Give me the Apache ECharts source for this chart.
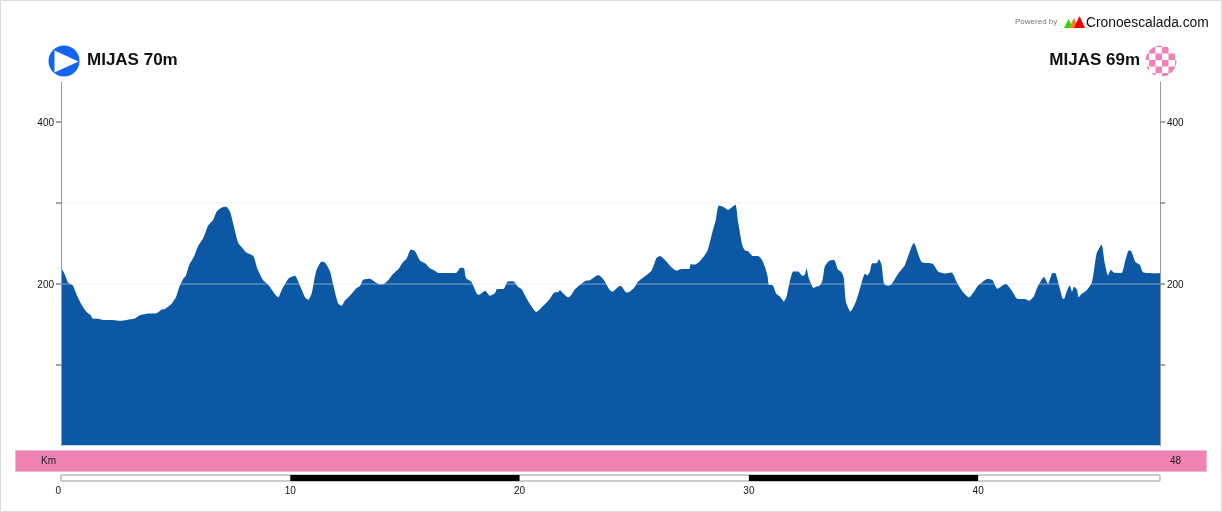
<!DOCTYPE html>
<html><head><meta charset="utf-8">
<style>html,body{margin:0;padding:0;background:#fff}#c{width:1222px;height:512px}</style>
<script src="https://cdn.jsdelivr.net/npm/echarts@6/dist/echarts.min.js"></script>
</head><body><div id="c"></div>
<script>
const kmMarks=[0,.04,.17,.32,.51,.69,.90,1.12,1.30,1.38,1.63,1.85,2.28,2.58,3.01,3.23,3.45,3.81,4.18,4.40,4.54,4.83,5.02,5.17,5.34,5.46,5.60,5.81,6.00,6.21,6.43,6.65,6.80,7.02,7.21,7.38,7.48,7.74,7.89,8.11,8.40,8.57,8.83,9.05,9.49,9.64,9.93,10.22,10.36,10.66,10.80,10.95,11.14,11.38,11.53,11.75,11.89,12.11,12.26,12.40,12.62,12.91,13.06,13.20,13.49,13.79,13.93,14.10,14.29,14.51,14.77,14.92,15.10,15.28,15.46,15.68,15.90,16.11,16.33,16.48,17.25,17.45,17.60,17.69,17.93,18.15,18.25,18.52,18.73,18.95,19.03,19.34,19.51,19.75,19.97,20.12,20.41,20.77,21.06,21.35,21.53,21.72,21.79,21.93,22.15,22.26,22.45,22.88,23.10,23.46,23.68,23.97,24.09,24.34,24.45,24.70,24.82,25.02,25.21,25.79,26.01,26.16,26.38,26.67,26.89,27.10,27.44,27.50,27.69,27.93,28.24,28.46,28.60,28.73,28.92,29.14,29.33,29.46,29.58,29.75,29.87,30.01,30.23,30.45,30.60,30.74,30.86,30.92,31.08,31.25,31.40,31.57,31.69,31.83,31.98,32.20,32.39,32.49,32.56,32.66,32.88,32.97,33.14,33.26,33.36,33.54,33.76,33.94,34.09,34.19,34.28,34.48,34.72,34.92,35.11,35.21,35.33,35.43,35.62,35.73,35.84,35.94,36.06,36.20,36.56,36.86,37.25,37.59,38.07,38.31,38.60,38.90,39.11,39.38,39.66,40.06,40.49,40.69,40.89,41.27,41.51,41.78,42.10,42.28,42.49,42.63,42.93,43.11,43.31,43.44,43.62,43.74,43.81,43.92,44.06,44.16,44.25,44.38,44.45,44.57,44.79,45.03,45.23,45.45,45.59,45.73,45.85,45.98,46.32,46.49,46.64,46.71,46.93,47.12,47.26,47.55,47.77,48];
const elevations=[219,218,211,201,198,186,174,165,161,157,156.5,155,155,154,156,157,161,163,163.5,168,168.5,175,183,196,206,210,223,233.5,247,256,272,279,289,294,295,289,279,250,245,238,234,219,204,198.5,183,192,206,209.6,202.6,183,180,188,215,227,226,215,198.5,175,172.5,179,185,194.4,197,204.7,206,200.6,199,199.4,204,212,219,226,231,242,240,228.6,225,219,216,213,213,219.5,219,207,202,188,186,191,185,188,193,193.6,202.6,203,195.7,193,178,165,172.5,181,188.6,189.5,192,188,183,185,193,203,204,210.5,205.6,192,190,196,197,189,189.5,194.4,202.6,216,231.5,234,229,220,216,218,218,224,223.6,228.6,241,264.5,279,296.6,295,291,295,297.5,275,248,241,240,234,234,230,221,209,198.5,198,187,184,178,184,202.6,215,215,209.6,211,218.7,207,194.4,196,197.6,204,221,228,229,217,214,207,178,165.5,178,196,212,210,215,225,225,230,223,200.6,197.6,197.6,212,223,250,226.6,224.5,215,212.5,213.7,202.6,190,183,197.6,206,204,193.6,199.8,192,181,181,178.7,184,194.4,208,199.8,213,212.5,194.4,182,181,190,197.6,190,196,192,183,187,191.5,202,237,248,225,210,217,213.7,213,229,241,241,226.6,223,214,213,212.5,213];
const elevationTicks=[100,200,300,400];
const elevationLabels=[200,400];
const scaleTicks=[0,10,20,30,40];
const scaleBlackFrom=[10,30];
const scaleBlackTo=[20,40];
const totalKm=48;
const scaleEndKm=47.93;
const startTitle='MIJAS 70m', endTitle='MIJAS 69m';

const FONT='Arial, "Liberation Sans", sans-serif';
const pat=document.createElement('canvas');pat.width=pat.height=13;
const g=pat.getContext('2d');g.fillStyle='#fff';g.fillRect(0,0,13,13);
g.fillStyle='#ee82b4';g.fillRect(0,0,6.5,6.5);g.fillRect(6.5,6.5,6.5,6.5);

const yAxisBase={type:'value',min:0,max:449,gridIndex:0,interval:100,z:5,
  axisLine:{show:true,onZero:false,lineStyle:{color:'#999',width:1}},
  axisTick:{show:true,length:5,customValues:elevationTicks,lineStyle:{color:'#888',width:1.5}},
  axisLabel:{customValues:elevationLabels,color:'#111',fontSize:10,fontFamily:FONT,margin:7,verticalAlign:'top',lineHeight:4}};

const chart=echarts.init(document.getElementById('c'),null,{renderer:'canvas'});
chart.setOption({
  animation:false,
  backgroundColor:'#fff',
  grid:[{left:61,right:62,top:82,height:363.5},{left:61,right:62,top:475,height:6}],
  xAxis:[
    {type:'value',gridIndex:0,min:0,max:totalKm,axisLine:{show:false},axisTick:{show:false},axisLabel:{show:false},splitLine:{show:false}},
    {type:'value',gridIndex:1,min:0,max:scaleEndKm,interval:10,axisLine:{show:false},axisTick:{show:false},splitLine:{show:false},
     axisLabel:{customValues:scaleTicks,color:'#111',fontSize:10,fontFamily:FONT,margin:5,alignMinLabel:'right'}}
  ],
  yAxis:[
    Object.assign({},yAxisBase,{position:'left',
      splitLine:{show:true,showMinLine:false,showMaxLine:false,lineStyle:{color:'rgba(225,225,225,0.28)',width:2}}}),
    Object.assign({},yAxisBase,{position:'right',splitLine:{show:false}}),
    {type:'value',gridIndex:1,min:0,max:1,show:false}
  ],
  series:[
    {type:'line',xAxisIndex:0,yAxisIndex:0,z:2,smooth:0.2,showSymbol:false,symbol:'none',silent:true,
     data:kmMarks.map((k,i)=>[k,elevations[i]]),
     lineStyle:{width:0,color:'#0c58a4'},areaStyle:{color:'#0c58a4',opacity:1}},
    {type:'custom',xAxisIndex:1,yAxisIndex:2,silent:true,z:3,
     data:[[0,scaleEndKm,0]].concat(scaleBlackFrom.map((f,i)=>[f,scaleBlackTo[i],1])),
     encode:{x:[0,1]},
     renderItem:(p,api)=>{
       const a=api.coord([api.value(0),1]),b=api.coord([api.value(1),0]);
       const black=api.value(2)===1;
       return {type:'rect',shape:{x:a[0],y:a[1],width:b[0]-a[0],height:b[1]-a[1],r:black?0:1},
         style:black?{fill:'#000'}:{fill:'#fff',stroke:'#bbb',lineWidth:1.5}};
     }}
  ],
  graphic:[
    {type:'rect',silent:true,z:100,shape:{x:.5,y:.5,width:1221,height:511},style:{fill:'none',stroke:'#dcdcdc',lineWidth:1}},
    {type:'rect',silent:true,shape:{x:15.5,y:450.5,width:1191,height:21},style:{fill:'#ee82b4',stroke:'#f5b5d3',lineWidth:1}},
    {type:'text',silent:true,style:{x:41,y:461.5,text:'Km',font:'10px '+FONT,fill:'#222',textVerticalAlign:'middle'}},
    {type:'text',silent:true,style:{x:1170,y:461.5,text:String(totalKm),font:'10px '+FONT,fill:'#222',textVerticalAlign:'middle'}},
    {type:'circle',silent:true,shape:{cx:64,cy:61,r:15.5},style:{fill:'#1464f4'}},
    {type:'polygon',silent:true,shape:{points:[[54.5,50.5],[78.5,61.5],[54.5,72.5]]},style:{fill:'#fff'}},
    {type:'text',silent:true,style:{x:87,y:60.5,text:startTitle,font:'bold 17px '+FONT,fill:'#111',textVerticalAlign:'middle'}},
    {type:'text',silent:true,style:{x:1140,y:60.5,text:endTitle,font:'bold 17px '+FONT,fill:'#111',textAlign:'right',textVerticalAlign:'middle'}},
    {type:'circle',silent:true,x:1162,y:47,shape:{cx:-1,cy:14,r:15.5},style:{fill:{image:pat,repeat:'repeat'}}},
    {type:'text',silent:true,style:{x:1015,y:22,text:'Powered by',font:'8px '+FONT,fill:'#777',textVerticalAlign:'middle'}},
    {type:'polygon',silent:true,shape:{points:[[1064,28],[1068.5,19],[1073,28]]},style:{fill:'#22e000'}},
    {type:'polygon',silent:true,shape:{points:[[1069,28],[1074,18],[1079,28]]},style:{fill:'#f58220'}},
    {type:'polygon',silent:true,shape:{points:[[1074,28],[1079.5,16],[1085,28]]},style:{fill:'#f00000'}},
    {type:'text',silent:true,style:{x:1086,y:23,text:'Cronoescalada.com',font:'13.8px '+FONT,fill:'#111',textVerticalAlign:'middle'}}
  ]
});
</script></body></html>
